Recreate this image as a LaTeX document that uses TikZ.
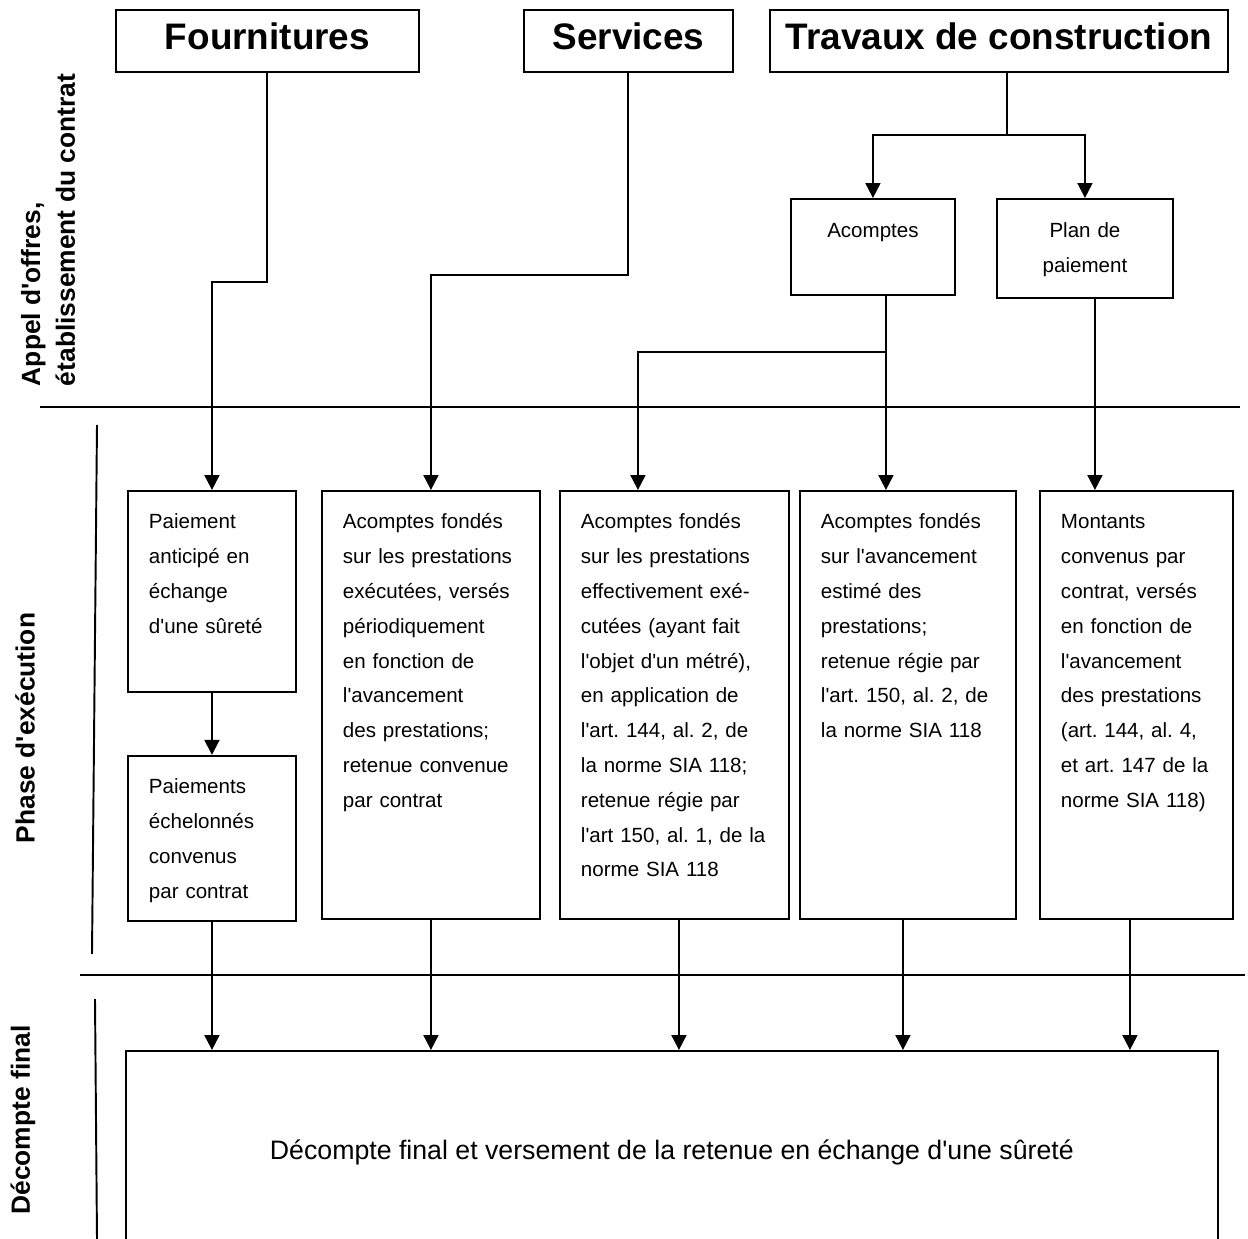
\documentclass[tikz,border=0pt]{standalone}
\usepackage{fontspec}
\setmainfont{Liberation Sans}[Ligatures=TeXOff]
\usetikzlibrary{arrows.meta,calc,positioning}
\frenchspacing

\begin{document}
\begin{tikzpicture}[x=0.02cm,y=-0.02cm,>={Triangle[length=8.5pt,width=8.5pt]},line width=1.1pt,
    every node/.style={font=\fontsize{11.7pt}{19.8pt}\selectfont},
    entete/.style={draw,anchor=north west,inner sep=0pt,minimum height=1.24cm,text depth=0.2cm,font=\fontsize{21pt}{25pt}\selectfont\bfseries},
    phase/.style={rotate=90,inner sep=0pt,align=left,font=\fontsize{15pt}{19.8pt}\selectfont\bfseries},
    etape/.style={draw,anchor=north west,align=left,inner xsep=0.42cm,inner ysep=0pt,text height=0.76cm},
    choix/.style={draw,anchor=north west,align=center,inner sep=0pt,text height=0.78cm}]
  \useasboundingbox (0,0) rectangle (1248,1239);

  % en-tetes
  \node[entete,minimum width=6.06cm] (four) at (115,9) {Fournitures};
  \node[entete,minimum width=4.18cm] (serv) at (523,9) {Services};
  \node[entete,minimum width=9.16cm] (trav) at (769,9) {Travaux de construction};

  % phases
  \node[phase,anchor=west] (p_1) at (48,387) {Appel d'offres,\\établissement du contrat};
  \node[phase] (p_2) at (25,728) {Phase d'exécution};
  \node[phase] (p_3) at (23,1120) {Décompte final};
  \draw (40,407) -- (1240,407);
  \draw (80,975) -- (1245,975);
  \draw (97,425) -- (92,954);
  \draw (95,999) -- (97,1239);

  \node[choix,text width=3.28cm,text depth=1.14cm] (acpt) at (790,198) {Acomptes};
  \node[choix,text width=3.52cm,text depth=1.2cm] (plan) at (996,198) {Plan de\\paiement};

  \node[etape,text width=2.52cm,text depth=3.26cm] (e_1) at (127,490) {Paiement\\anticipé en\\échange\\d'une sûreté};
  \node[etape,text width=2.52cm,text depth=2.54cm,below=1.24cm of e_1] (e_2) {Paiements\\échelonnés\\convenus\\par contrat};
  \node[etape,text width=3.52cm,text depth=7.8cm] (e_3) at (321,490) {Acomptes fondés\\sur les prestations\\exécutées, versés\\périodiquement\\en fonction de\\l'avancement\\des prestations;\\retenue convenue\\par contrat};
  \node[etape,text width=3.74cm,text depth=7.8cm] (e_4) at (559,490) {Acomptes fondés\\sur les prestations\\effectivement exé-\\cutées (ayant fait\\l'objet d'un métré),\\en application de\\l'art. 144, al. 2, de\\la norme SIA 118;\\retenue régie par\\l'art 150, al. 1, de la\\norme SIA 118};
  \node[etape,text width=3.48cm,text depth=7.8cm] (e_5) at (799,490) {Acomptes fondés\\sur l'avancement\\estimé des\\prestations;\\retenue régie par\\l'art. 150, al. 2, de\\la norme SIA 118};
  \node[etape,text width=3.02cm,text depth=7.8cm] (e_6) at (1039,490) {Montants\\convenus par\\contrat, versés\\en fonction de\\l'avancement\\des prestations\\(art. 144, al. 4,\\et art. 147 de la\\norme SIA 118)};

  \node[draw,anchor=north west,minimum width=21.84cm,minimum height=4.04cm,inner sep=0pt,font=\fontsize{15.2pt}{19.8pt}\selectfont] (fin) at (125,1050) {Décompte final et versement de la retenue en échange d'une sûreté};

  % liaisons
  \draw[->] (four.south) -- ++(0,209) -| (e_1.north);
  \draw[->] (serv.south) -- ++(0,202) -| (e_3.north);
  \draw ([xshift=0.16cm]trav.south) -- ++(0,62) coordinate (t_j);
  \draw[->] (t_j) -| (acpt.north);
  \draw[->] (t_j) -| (plan.north);
  \draw[->] ([xshift=0.26cm]acpt.south) -- ([xshift=0.26cm]acpt.south |- e_5.north);
  \coordinate (a_j) at ($(acpt.south)+(13,56)$);
  \draw[->] (a_j) -| ([xshift=-0.73cm]e_4.north);
  \draw[->] ([xshift=0.2cm]plan.south) -- ([xshift=0.2cm]plan.south |- e_6.north);
  \draw[->] (e_1.south) -- (e_2.north);
  \foreach \n/\d in {2/0,3/0,4/0.09,5/-0.1,6/-0.13}
    \draw[->] ([xshift=\d cm]e_\n.south) -- ([xshift=\d cm]e_\n.south |- fin.north);
\end{tikzpicture}
\end{document}
